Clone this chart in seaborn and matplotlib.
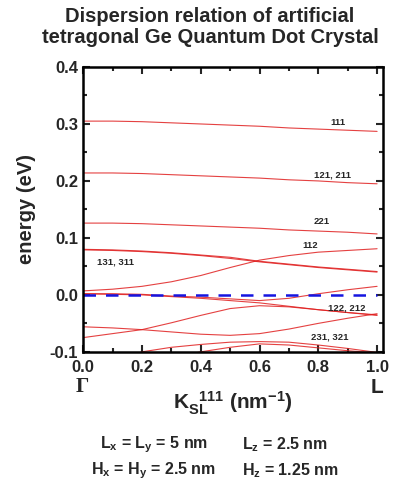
import numpy as np
import pandas as pd
import matplotlib
matplotlib.use("Agg")
import matplotlib.pyplot as plt
from matplotlib.ticker import MultipleLocator
import seaborn as sns

# ------------------------
# data (energy in eV vs K_SL in nm^-1)
# ------------------------
k = [0.0, 0.1, 0.2, 0.3, 0.4, 0.5, 0.6, 0.7, 0.8, 0.9, 1.0]

band_111 = [0.305, 0.305, 0.304, 0.302, 0.300, 0.298, 0.296, 0.293, 0.291, 0.289, 0.287]
band_121 = [0.214, 0.214, 0.213, 0.211, 0.209, 0.207, 0.205, 0.202, 0.200, 0.197, 0.195]
band_221 = [0.126, 0.126, 0.125, 0.123, 0.121, 0.119, 0.117, 0.114, 0.112, 0.110, 0.107]
band_131a = [0.080, 0.079, 0.077, 0.074, 0.070, 0.066, 0.059, 0.054, 0.049, 0.045, 0.041]
band_131b = [0.079, 0.078, 0.076, 0.073, 0.069, 0.064, 0.058, 0.053, 0.048, 0.044, 0.040]
band_112 = [0.007, 0.010, 0.015, 0.023, 0.034, 0.048, 0.061, 0.069, 0.075, 0.078, 0.081]
band_n1 = [0.002, 0.002, 0.001, -0.002, -0.004, -0.007, -0.010, -0.006, 0.002, 0.009, 0.015]
band_n2 = [0.002, 0.001, 0.000, -0.003, -0.006, -0.010, -0.014, -0.020, -0.026, -0.031, -0.035]
band_b = [-0.075, -0.068, -0.061, -0.049, -0.036, -0.024, -0.019, -0.021, -0.026, -0.031, -0.036]
band_a = [-0.056, -0.058, -0.061, -0.065, -0.069, -0.071, -0.068, -0.060, -0.050, -0.041, -0.033]
band_c = [-0.130, -0.118, -0.100, -0.092, -0.087, -0.083, -0.082, -0.083, -0.088, -0.094, -0.101]
band_d = [-0.150, -0.135, -0.120, -0.110, -0.100, -0.092, -0.086, -0.088, -0.093, -0.098, -0.102]

bands = [band_111, band_121, band_221, band_131a, band_131b, band_112,
         band_n1, band_n2, band_b, band_a, band_c, band_d]

labels = ["111", "121, 211", "221", "112", "131, 311", "122, 212", "231, 321"]
label_x = [0.867, 0.847, 0.813, 0.773, 0.11, 0.897, 0.84]
label_y = [0.302, 0.210, 0.128, 0.086, 0.058, -0.023, -0.074]

# ------------------------
# plotting
# ------------------------
sns.set_style("ticks")
plt.rcParams["font.family"] = ["Liberation Sans", "DejaVu Sans"]
plt.rcParams["font.weight"] = "bold"
plt.rcParams["mathtext.fontset"] = "custom"
plt.rcParams["mathtext.bf"] = "Liberation Sans:bold"
plt.rcParams["mathtext.rm"] = "Liberation Sans:bold"
plt.rcParams["mathtext.default"] = "bf"

fig = plt.figure(figsize=(3.94, 4.82), dpi=100)
ax = fig.add_axes([0.211, 0.270, 0.761, 0.591])

for b in bands:
    sns.lineplot(x=k, y=b, ax=ax, color="#e02020", lw=0.8, alpha=0.85)

sns.lineplot(x=[0.0, 1.0], y=[0.0, 0.0], ax=ax, color="#1515e0", lw=1.8,
             dashes=False, linestyle=(0, (5, 4)))

for t, x, y in zip(labels, label_x, label_y):
    ax.text(x, y, t, fontsize=6.8, fontweight="bold", ha="center", va="center")

ax.set_xlim(0, 1.02)
ax.set_ylim(-0.1, 0.4)
ax.xaxis.set_major_locator(MultipleLocator(0.2))
ax.xaxis.set_minor_locator(MultipleLocator(0.1))
ax.yaxis.set_major_locator(MultipleLocator(0.1))
ax.yaxis.set_minor_locator(MultipleLocator(0.05))
ax.tick_params(which="both", direction="in", top=True, right=True, labelsize=12, width=1.5)
ax.tick_params(which="major", length=5)
ax.tick_params(which="minor", length=3)
ax.tick_params(axis="x", pad=6)
ax.set_xticklabels([f"{v:.1f}" for v in ax.get_xticks()])
ax.set_yticks([-0.1, 0.0, 0.1, 0.2, 0.3, 0.4])
ax.set_yticklabels(["-0.1", "0.0", "0.1", "0.2", "0.3", "0.4"])
ax.set_xlim(0, 1.02)
for s in ax.spines.values():
    s.set_linewidth(1.8)
    s.set_color("black")

ax.set_ylabel("energy (eV)", fontsize=14.5, fontweight="bold", labelpad=10)

fig.text(0.208, 0.197, "Γ", family="Liberation Serif", fontsize=15, ha="center", va="center")
fig.text(0.957, 0.197, "L", fontsize=15, fontweight="bold", ha="center", va="center")
fig.text(0.59, 0.163, r"$K_{SL}^{\ \ 111}$ (nm$^{-1}$)", fontsize=15,
         fontweight="bold", ha="center", va="center")

fig.text(0.533, 0.944, "Dispersion relation of artificial\ntetragonal Ge Quantum Dot Crystal",
         fontsize=14.5, fontweight="bold", ha="center", va="center", linespacing=1.15)

fig.text(0.39, 0.077, r"L$_x$ = L$_y$ = 5 nm", fontsize=11.5, ha="center", va="center")
fig.text(0.615, 0.077, r"L$_z$ = 2.5 nm", fontsize=11.5, ha="left", va="center")
fig.text(0.39, 0.024, r"H$_x$ = H$_y$ = 2.5 nm", fontsize=11.5, ha="center", va="center")
fig.text(0.615, 0.024, r"H$_z$ = 1.25 nm", fontsize=11.5, ha="left", va="center")

fig.savefig("out.png", dpi=100)
